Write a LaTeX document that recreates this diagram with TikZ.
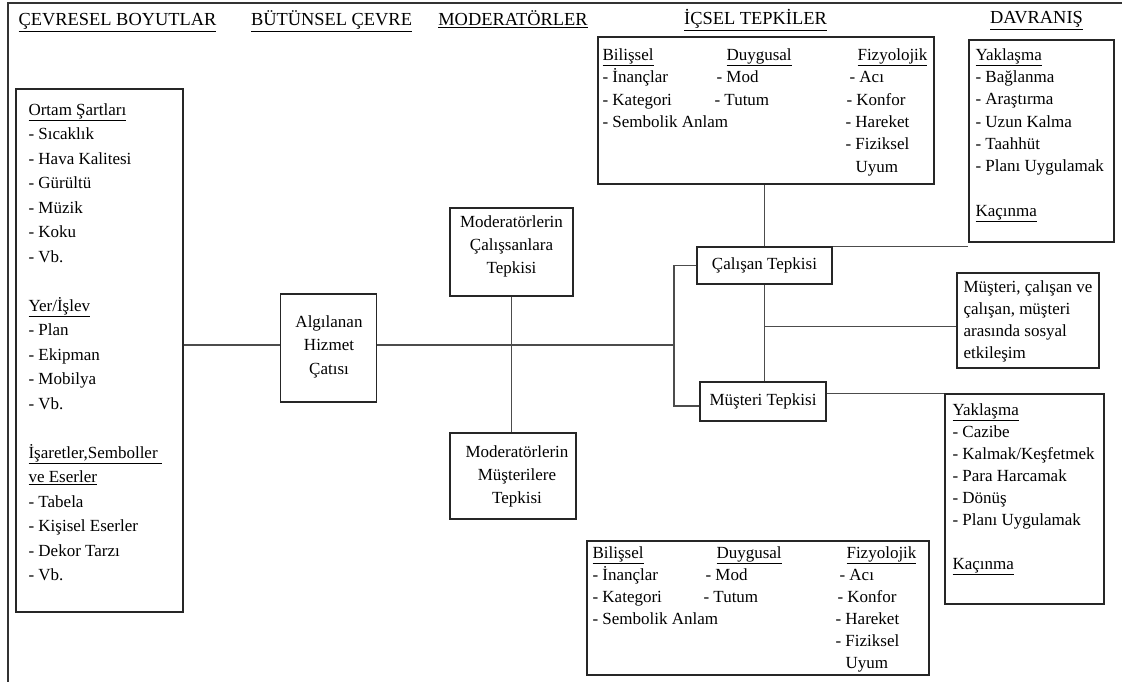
\documentclass[tikz,border=0pt]{standalone}
\usepackage{fontspec}
\setmainfont{Liberation Serif}
\usetikzlibrary{positioning}
\tikzset{
x=1pt, y=-1pt, % one unit is one pixel of the sketch, y grows downwards
box/.style={draw=black!85, line width=1.3pt, inner sep=0pt}, % the frame of every box
txt/.style={font=\fontsize{17pt}{#1}\selectfont, align=left, inner sep=0pt}, % text in a box, #1 is the line spacing
ctxt/.style={font=\fontsize{17pt}{#1}\selectfont, align=center, inner sep=0pt}, % centred text in a box
head/.style={font=\fontsize{18.4pt}{20pt}\selectfont, inner sep=0pt, anchor=base}, % headings of the columns
link/.style={draw=black!70, line width=1.3pt}, % lines between the boxes
}

\begin{document}
\begin{tikzpicture}
        \useasboundingbox (0,0) rectangle (1122,682);
        \draw[draw=black!80, line width=1.3pt] (8,682) -- (8,3) -- (1122,3);

        % headings
        \node[head] (hcevre) at (117.5,26) {\underline{ÇEVRESEL BOYUTLAR}};
        \node[head] (hbutun) at (331.5,26) {\underline{BÜTÜNSEL ÇEVRE}};
        \node[head] (hmod) at (513,26) {\underline{MODERATÖRLER}};
        \node[head] (hicsel) at (755.5,25) {\underline{İÇSEL TEPKİLER}};
        \node[head] (hdavr) at (1036.5,24) {\underline{DAVRANIŞ}};

        % boxes
        \node[box, minimum width=167pt, minimum height=523pt] (cevre) at (99.5,350.5) {};
        \node[box, minimum width=96pt, minimum height=108pt] (alg) at (328.5,348) {};
        \node[box, minimum width=123pt, minimum height=88pt] (modc) at (511.5,252) {};
        \node[box, minimum width=126pt, minimum height=86pt] (modm) at (513,476) {};
        \node[box, minimum width=336pt, minimum height=147pt] (ictop) at (766,110.5) {};
        \node[box, minimum width=342pt, minimum height=134pt] (icbot) at (758,608) {};
        \node[box, minimum width=135pt, minimum height=37pt, font=\fontsize{17pt}{20pt}\selectfont] (calt) at (764.5,265.5) {Çalışan Tepkisi};
        \node[box, minimum width=126pt, minimum height=39pt, font=\fontsize{17pt}{20pt}\selectfont] (must) at (763,401.5) {Müşteri Tepkisi};
        \node[box, minimum width=145pt, minimum height=202pt] (davtop) at (1041.5,141) {};
        \node[box, minimum width=142pt, minimum height=95pt] (sosyal) at (1028,320.5) {};
        \node[box, minimum width=159pt, minimum height=210pt] (davbot) at (1024.5,499) {};

        % texts
        \node[txt=24.5pt, below right=15pt and 13pt of cevre.north west] (cevretxt) {
            \underline{Ortam Şartları}\\
            - Sıcaklık\\
            - Hava Kalitesi\\
            - Gürültü\\
            - Müzik\\
            - Koku\\
            - Vb.\\[24.5pt]
            \underline{Yer/İşlev}\\
            - Plan\\
            - Ekipman\\
            - Mobilya\\
            - Vb.\\[24.5pt]
            \underline{İşaretler,Semboller\ }\\
            \underline{ve Eserler}\\
            - Tabela\\
            - Kişisel Eserler\\
            - Dekor Tarzı\\
            - Vb.};
        \node[ctxt=23.5pt] (algtxt) at (329,346.5) {Algılanan\\ Hizmet\\ Çatısı};
        \node[ctxt=23pt] (modctxt) at (511.5,246.5) {Moderatörlerin\\ Çalışsanlara\\ Tepkisi};
        \node[ctxt=23pt] (modmtxt) at (517,476.5) {Moderatörlerin\\ Müşterilere\\ Tepkisi};

        \node[txt=22.4pt, below right=12pt and 5pt of ictop.north west] (ictopa) {
            \underline{Bilişsel}\\ - İnançlar\\ - Kategori\\ - Sembolik Anlam};
        \node[txt=22.4pt, below right=12pt and 117pt of ictop.north west] (ictopb) {
            \hspace{12pt}\underline{Duygusal}\\ \hspace{2pt}- Mod\\ - Tutum};
        \node[txt=22.4pt, below right=12pt and 248pt of ictop.north west] (ictopc) {
            \hspace{12pt}\underline{Fizyolojik}\\ \hspace{4pt}- Acı\\ \hspace{1pt}- Konfor\\
            - Hareket\\ - Fiziksel\\ \hspace{10pt}Uyum};

        \node[txt=22.1pt, below right=6pt and 6pt of icbot.north west] (icbota) {
            \underline{Bilişsel}\\ - İnançlar\\ - Kategori\\ - Sembolik Anlam};
        \node[txt=22.1pt, below right=6pt and 117pt of icbot.north west] (icbotb) {
            \hspace{13pt}\underline{Duygusal}\\ \hspace{2pt}- Mod\\ - Tutum};
        \node[txt=22.1pt, below right=6pt and 249pt of icbot.north west] (icbotc) {
            \hspace{11pt}\underline{Fizyolojik}\\ \hspace{4pt}- Acı\\ \hspace{2pt}- Konfor\\
            - Hareket\\ - Fiziksel\\ \hspace{10pt}Uyum};

        \node[txt=22.3pt, below right=9pt and 7pt of davtop.north west] (davtoptxt) {
            \underline{Yaklaşma}\\ - Bağlanma\\ - Araştırma\\ - Uzun Kalma\\ - Taahhüt\\
            - Planı Uygulamak\\[22.3pt] \underline{Kaçınma}};
        \node[txt=22pt, below right=8pt and 7pt of sosyal.north west] (sosyaltxt) {
            Müşteri, çalışan ve\\ çalışan, müşteri\\ arasında sosyal\\ etkileşim};
        \node[txt=22pt, below right=10pt and 8pt of davbot.north west] (davbottxt) {
            \underline{Yaklaşma}\\ - Cazibe\\ - Kalmak/Keşfetmek\\ - Para Harcamak\\ - Dönüş\\
            - Planı Uygulamak\\[22pt] \underline{Kaçınma}};

        % connectors
        \coordinate (hub) at (674,345);
        \draw[link] (cevre.east |- hub) -- (alg.west |- hub);
        \draw[link] (alg.east |- hub) -- (hub);
        \draw[link] (modc.south) -- (modc.south |- modm.north);
        \draw[link] (calt.west) -| (hub) |- (must.184);
        \draw[link] (calt.north) -- (calt.north |- ictop.south);
        \draw[link] (calt.north east) -- (calt.north east -| davtop.west);
        \draw[link] (calt.south) -- (calt.south |- must.north);
        \draw[link] (calt.south |- sosyal.185) -- (sosyal.185);
        \draw[link] (must.7) -- (must.7 -| davbot.west);
\end{tikzpicture}
\end{document}
